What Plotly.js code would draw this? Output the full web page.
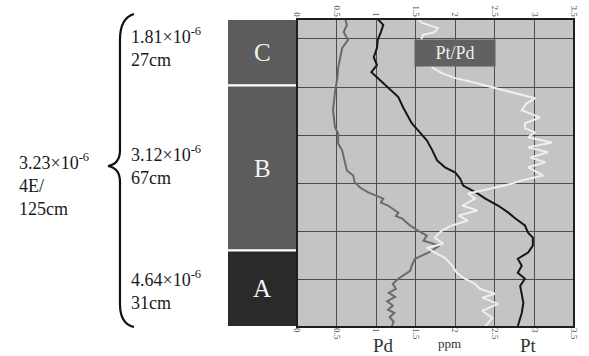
<!DOCTYPE html>
<html>
<head>
<meta charset="utf-8">
<script src="https://cdn.plot.ly/plotly-3.0.1.min.js"></script>
<style>html,body{margin:0;padding:0;background:#fff;}#chart{width:589px;height:356px;}</style>
</head>
<body>
<div id="chart"></div>
<script>
// ---- Data ----
var layerNames = ['C', 'B', 'A'];
var layerThickness = [27, 67, 31];   // cm
var layerTop = [0, 27, 94];          // cm
var layerColors = ['#5c5c5c', '#5c5c5c', '#2a2a2a'];
var layerNotes = ['1.81×10<sup>-6</sup><br>27cm', '3.12×10<sup>-6</sup><br>67cm', '4.64×10<sup>-6</sup><br>31cm'];
var totalNote = '3.23×10<sup>-6</sup><br>4E/<br>125cm';

var pdDepth = [0,2.4,5.3,8.5,11.8,15.9,19.9,24.0,29.7,37.0,44.0,46.4,50.5,53.3,58.2,61.5,63.5,66.3,68.5,70.4,72.9,74.5,75.7,77.2,78.6,80.0,81.0,82.5,83.8,85.9,87.9,90.0,92.0,94.8,97.3,100.1,102.2,105.4,107.5,109.5,111.1,112.8,114.5,116.4,118.0,119.3,121.0,122.8,124.6];
var pdVal = [0.61,0.63,0.59,0.645,0.57,0.54,0.52,0.51,0.48,0.455,0.48,0.52,0.52,0.57,0.61,0.63,0.71,0.73,0.80,0.90,1.09,1.06,1.15,1.22,1.28,1.25,1.33,1.38,1.43,1.53,1.64,1.60,1.80,1.66,1.49,1.45,1.43,1.28,1.21,1.25,1.16,1.24,1.14,1.21,1.15,1.23,1.17,1.22,1.20];

var ptDepth = [0,2.4,5.3,8.5,11.8,15.5,18.7,21.6,23.6,26.0,28.9,31.7,35.8,39.1,42.3,45.2,49.2,53.3,57.4,60.2,62.3,64.7,67.6,70.8,72.9,75.7,78.6,81.0,83.8,86.7,88.7,92.0,94.8,97.3,100.1,103.0,105.4,108.3,111.1,115.2,119.3,124.6];
var ptVal = [1.02,1.09,1.06,1.02,1.01,0.97,1.01,0.94,1.01,1.09,1.20,1.28,1.34,1.40,1.45,1.53,1.64,1.71,1.77,1.87,2.00,2.06,2.10,2.28,2.38,2.54,2.67,2.76,2.88,2.92,2.98,2.98,2.92,2.79,2.84,2.79,2.88,2.82,2.84,2.86,2.84,2.79];

var ratioDepth = [0,1.6,3.7,5.3,6.5,8.5,12.6,16.7,19.9,22.0,24.0,25.6,27.3,28.9,30.5,32.2,34.2,37.0,39.9,42.3,44.4,46.0,48.0,50.1,52.1,54.1,56.2,58.2,60.2,63.5,65.5,66.8,69.6,70.8,72.9,75.7,77.7,79.8,81.8,83.8,85.9,88.7,91.2,92.8,94.8,96.9,100.1,103.0,105.4,107.5,109.5,111.5,113.1,115.6,118.4,121.3,124.6];
var ratioVal = [1.52,1.58,1.78,1.74,1.59,1.57,1.58,1.66,1.72,1.83,2.00,2.21,2.41,2.60,2.82,3.01,2.90,2.84,3.07,2.88,2.88,3.01,2.92,3.22,2.92,3.17,2.95,3.14,2.92,3.11,2.84,2.72,2.34,2.16,2.25,2.09,2.28,2.04,2.16,1.96,1.83,1.74,1.85,1.64,1.74,1.87,1.96,2.02,2.12,2.25,2.31,2.50,2.34,2.54,2.34,2.47,2.38];

// ---- Geometry (pixels of the 589x356 page) ----
var L = 227, R = 574, T = 19, B = 327;
var W = R - L, H = B - T;
function pxX(x) { return (x - L) / W; }
function pxY(y) { return (B - y) / H; }
var splitX = pxX(297);

var serif = "'Liberation Serif', 'DejaVu Serif', serif";

var traces = [
  {type: 'bar', x: layerNames.map(function(){return 'L';}), y: layerThickness, base: layerTop,
   xaxis: 'x2', yaxis: 'y', width: 1,
   marker: {color: layerColors, line: {color: '#ffffff', width: 2}},
   hoverinfo: 'skip', showlegend: false},
  {type: 'scatter', mode: 'lines', x: pdVal, y: pdDepth, xaxis: 'x', yaxis: 'y', name: 'Pd',
   line: {color: '#6b6b6b', width: 2}, showlegend: false},
  {type: 'scatter', mode: 'lines', x: ptVal, y: ptDepth, xaxis: 'x', yaxis: 'y', name: 'Pt',
   line: {color: '#161616', width: 2}, showlegend: false},
  {type: 'scatter', mode: 'lines', x: ratioVal, y: ratioDepth, xaxis: 'x3', yaxis: 'y', name: 'Pt/Pd',
   line: {color: '#efefef', width: 2}, showlegend: false}
];

var tickFont = {family: serif, size: 9, color: '#555'};

var annotations = [];
// layer letters
for (var i = 0; i < layerNames.length; i++) {
  annotations.push({xref: 'x2', yref: 'y', x: 0, y: layerTop[i] + layerThickness[i] / 2,
    text: layerNames[i], showarrow: false, font: {family: serif, size: 25, color: '#f2f2f2'}});
}
// layer notes on the left
var noteY = [47, 165, 290];
for (var j = 0; j < layerNotes.length; j++) {
  annotations.push({xref: 'paper', yref: 'paper', x: pxX(129), y: pxY(noteY[j]), xanchor: 'left', yanchor: 'middle',
    align: 'left', text: layerNotes[j], showarrow: false, font: {family: serif, size: 18, color: '#1a1a1a'}});
}
annotations.push({xref: 'paper', yref: 'paper', x: pxX(17), y: pxY(184), xanchor: 'left', yanchor: 'middle',
  align: 'left', text: totalNote, showarrow: false, font: {family: serif, size: 18, color: '#1a1a1a'}});
// Pt/Pd box
annotations.push({xref: 'x', yref: 'y', x: 2.0, y: 13.8, text: 'Pt/Pd', showarrow: false,
  width: 78, height: 24, bgcolor: '#616161', borderpad: 1,
  font: {family: serif, size: 18, color: '#eeeeee'}});
// bottom labels
annotations.push({xref: 'x', yref: 'paper', x: 1.09, y: pxY(345), yanchor: 'middle', text: 'Pd', showarrow: false,
  font: {family: serif, size: 19, color: '#333'}});
annotations.push({xref: 'x', yref: 'paper', x: 1.93, y: pxY(343), yanchor: 'middle', text: 'ppm', showarrow: false,
  font: {family: serif, size: 13, color: '#333'}});
annotations.push({xref: 'x', yref: 'paper', x: 2.92, y: pxY(345), yanchor: 'middle', text: 'Pt', showarrow: false,
  font: {family: serif, size: 19, color: '#333'}});

// curly brace path (pixel points converted to paper)
function P(x, y) { return pxX(x).toFixed(4) + ',' + pxY(y).toFixed(4); }
var bracePath = 'M' + P(134, 14) + ' Q' + P(120, 18) + ' ' + P(120, 40) +
  ' L' + P(120, 150) + ' Q' + P(120, 164) + ' ' + P(108, 166) +
  ' Q' + P(120, 168) + ' ' + P(120, 182) + ' L' + P(120, 304) +
  ' Q' + P(120, 324) + ' ' + P(134, 327);

var layout = {
  width: 589, height: 356,
  margin: {l: L, r: 589 - R, t: T, b: 356 - B, pad: 0},
  paper_bgcolor: '#ffffff',
  plot_bgcolor: '#c4c4c4',
  showlegend: false,
  xaxis: {domain: [splitX, 1], range: [0, 3.5], dtick: 0.5, tick0: 0, showgrid: true,
    gridcolor: '#4d4d4d', gridwidth: 1, zeroline: false, showline: false, ticks: '',
    tickangle: 90, tickfont: tickFont, anchor: 'y', side: 'bottom', fixedrange: true},
  xaxis3: {overlaying: 'x', side: 'top', range: [0, 3.5], dtick: 0.5, tick0: 0, showgrid: false,
    zeroline: false, showline: false, ticks: '', tickangle: 90, tickfont: tickFont, anchor: 'y', fixedrange: true},
  xaxis2: {domain: [0, splitX], type: 'category', range: [-0.5, 0.5], showgrid: false, zeroline: false,
    showticklabels: false, ticks: '', showline: false, anchor: 'y', fixedrange: true},
  yaxis: {range: [125, 0], tick0: 8.1, dtick: 19.55, showgrid: true, gridcolor: '#4d4d4d', gridwidth: 1,
    zeroline: false, showticklabels: false, ticks: '', showline: false, fixedrange: true},
  annotations: annotations,
  shapes: [
    {type: 'rect', xref: 'x domain', yref: 'y domain', x0: 0, x1: 1, y0: 0, y1: 1,
     line: {color: '#1e1e1e', width: 2}, fillcolor: 'rgba(0,0,0,0)', layer: 'above'},
    {type: 'path', xref: 'paper', yref: 'paper', path: bracePath,
     line: {color: '#111', width: 2.2}, fillcolor: 'rgba(0,0,0,0)'}
  ]
};

Plotly.newPlot('chart', traces, layout, {displayModeBar: false, staticPlot: true});
</script>
</body>
</html>
